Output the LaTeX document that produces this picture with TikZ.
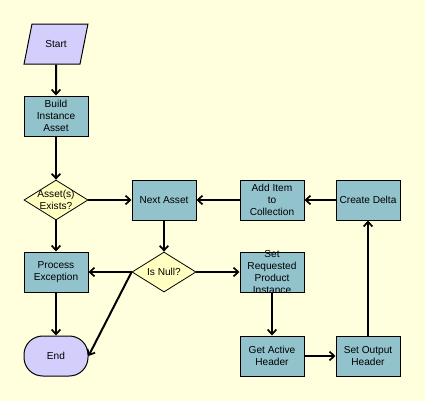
\documentclass[tikz,border=0pt]{standalone}
\usepackage{fontspec}
\setmainfont{Liberation Sans}
\usetikzlibrary{shapes.geometric,arrows.meta}
\definecolor{bg}{RGB}{255,255,222}
\definecolor{procfill}{RGB}{146,194,204}
\definecolor{termfill}{RGB}{212,206,252}
\definecolor{decfill}{RGB}{255,255,192}
\tikzset{
  txt/.style={font=\fontsize{7.6}{8.8}\selectfont, align=center, inner sep=0pt, text=black},
  proc/.style={draw=black, line width=0.75pt, fill=procfill, rectangle, minimum width=48pt, minimum height=30pt, inner sep=0pt},
  dec/.style={draw=black, line width=0.6pt, fill=decfill, diamond, minimum width=48pt, minimum height=30pt, inner sep=0pt},
  term/.style={draw=black, line width=0.75pt, fill=termfill, rectangle, rounded corners=14pt, minimum width=48pt, minimum height=30pt, inner sep=0pt},
  io/.style={draw=black, line width=0.75pt, fill=termfill, trapezium, trapezium left angle=68, trapezium right angle=112, trapezium stretches=true, minimum width=48pt, minimum height=30pt, inner sep=1pt, font=\fontsize{7.6}{8.8}\selectfont},
  conn/.style={draw=black, line width=1.5pt, -{Straight Barb[length=3.5pt,width=6.5pt,line width=1.3pt]}},
}
\begin{document}
\begin{tikzpicture}[x=0.75pt,y=-0.75pt]
\fill[bg] (0,0) rectangle (425,401);
\useasboundingbox (0,0) rectangle (425,401);
\node[io] (start) at (56,44) {Start};
\node[proc, label={[txt]center:Build\\Instance\\Asset}] (build) at (56,116) {};
\node[dec, label={[txt]center:Asset(s)\\Exists?}] (exists) at (56,200) {};
\node[proc, label={[txt]center:Next Asset}] (next) at (164,200) {};
\node[proc, label={[txt]center:Add Item\\to\\Collection}] (add) at (272,200) {};
\node[proc, label={[txt]center:Create Delta}] (delta) at (368,200) {};
\node[proc, label={[txt]center:Process\\Exception}] (exc) at (56,272) {};
\node[dec, label={[txt]center:Is Null?}] (isnull) at (164,272) {};
\node[proc, label={[txt]center:Set\\Requested\\Product\\Instance}] (setreq) at (272,272) {};
\node[term, label={[txt]center:End}] (end) at (56,356) {};
\node[proc, label={[txt]center:Get Active\\Header}] (getact) at (272,356) {};
\node[proc, label={[txt]center:Set Output\\Header}] (setout) at (368,356) {};

\draw[conn] (start) -- (build);
\draw[conn] (build) -- (exists);
\draw[conn] (exists) -- (next);
\draw[conn] (exists) -- (exc);
\draw[conn] (next) -- (isnull);
\draw[conn] (isnull) -- (exc);
\draw[conn] (isnull.west) -- (end.east);
\draw[conn] (exc) -- (end);
\draw[conn] (isnull) -- (setreq);
\draw[conn] (setreq) -- (getact);
\draw[conn] (getact) -- (setout);
\draw[conn] (setout) -- (delta);
\draw[conn] (delta) -- (add);
\draw[conn] (add) -- (next);
\end{tikzpicture}
\end{document}
